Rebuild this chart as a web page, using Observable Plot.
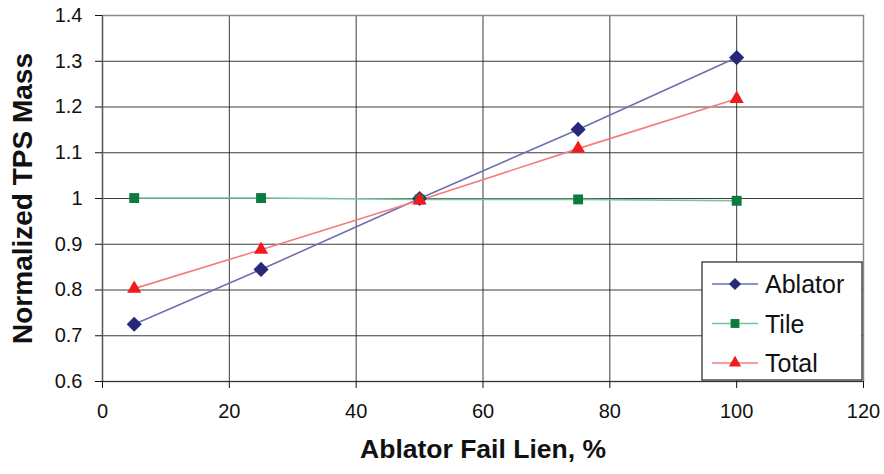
<!DOCTYPE html>
<html><head><meta charset="utf-8">
<script src="https://cdn.jsdelivr.net/npm/d3@7"></script>
<script src="https://cdn.jsdelivr.net/npm/@observablehq/plot@0.6"></script>
<style>
body{margin:0;background:#fff;font-family:"Liberation Sans",Arial,sans-serif;}
#chart{position:relative;width:884px;height:474px;}
</style></head>
<body><div id="chart"></div>
<script>
const failLien = [5, 25, 50, 75, 100];
const ablator = [0.725, 0.845, 1.0, 1.151, 1.308];
const tile = [1.001, 1.001, 0.998, 0.998, 0.995];
const total = [0.803, 0.888, 0.996, 1.109, 1.218];
const seriesNames = ["Ablator", "Tile", "Total"];
const xTicks = [0, 20, 40, 60, 80, 100, 120];
const yTicks = [0.6, 0.7, 0.8, 0.9, 1, 1.1, 1.2, 1.3, 1.4];
const xLabel = "Ablator Fail Lien, %";
const yLabel = "Normalized TPS Mass";

const lineColors = {Ablator: "#6f6fae", Tile: "#7cc29c", Total: "#f47c7c"};
const dotColors = {Ablator: "#26287a", Tile: "#0b7b3e", Total: "#f01c1c"};
const symbols = {Ablator: "diamond2", Tile: "square2", Total: "triangle2"};
const sizes = {Ablator: 6.8, Tile: 6.3, Total: 6.8};

const allSeries = [ablator, tile, total];
const data = [];
seriesNames.forEach((s, i) => failLien.forEach((x, j) => data.push({series: s, x, y: allSeries[i][j]})));

const marks = [
  Plot.gridX(xTicks, {stroke: "#1a1a1a", strokeOpacity: 0.85, strokeWidth: 1}),
  Plot.gridY(yTicks, {stroke: "#1a1a1a", strokeOpacity: 0.85, strokeWidth: 1}),
  Plot.frame({stroke: "#888", strokeWidth: 1.5}),
  Plot.ruleX([0], {stroke: "#555", strokeWidth: 1.2}),
  Plot.ruleY([0.6], {stroke: "#333", strokeWidth: 1.2}),
  Plot.axisX({ticks: xTicks, tickSize: 7, tickPadding: 15, fontSize: 20, label: null, tickFormat: d => String(d)}),
  Plot.axisY({ticks: yTicks, tickSize: 7, tickPadding: 13, fontSize: 20, label: null, tickFormat: d => String(d)}),
];
for (const s of seriesNames) {
  const d = data.filter(e => e.series === s);
  marks.push(Plot.line(d, {x: "x", y: "y", stroke: lineColors[s], strokeWidth: 1.6}));
}
for (const s of seriesNames) {
  const d = data.filter(e => e.series === s);
  marks.push(Plot.dot(d, {x: "x", y: "y", symbol: () => symbols[s], fill: dotColors[s], stroke: "none", r: sizes[s]}));
}
marks.push(Plot.text([xLabel], {frameAnchor: "bottom", dy: 76, fontSize: 26.5, fontWeight: "bold", fill: "#111", textAnchor: "middle"}));
marks.push(Plot.text([yLabel], {frameAnchor: "left", dx: -79, rotate: -90, fontSize: 28, fontWeight: "bold", fill: "#111", textAnchor: "middle"}));

const chart = Plot.plot({
  width: 884, height: 474,
  marginLeft: 102, marginRight: 21, marginTop: 15, marginBottom: 93,
  style: {fontFamily: "Liberation Sans, Arial, sans-serif", color: "#111", background: "#fff"},
  x: {domain: [0, 120]},
  y: {domain: [0.6, 1.4]},
  symbol: {type: "identity"},
  marks
});
document.getElementById("chart").appendChild(chart);

// legend box inside the plot area
const svg = d3.select(chart);
const lx = 702, ly = 262, lw = 160, lh = 118;
const g = svg.append("g").attr("font-family", "Liberation Sans, Arial, sans-serif").attr("text-anchor", "start");
g.append("rect").attr("x", lx).attr("y", ly).attr("width", lw).attr("height", lh)
  .attr("fill", "#fff").attr("stroke", "#222").attr("stroke-width", 1.2);
seriesNames.forEach((s, i) => {
  const cy = ly + 22 + i * 39.5;
  g.append("line").attr("x1", lx + 10).attr("x2", lx + 56).attr("y1", cy).attr("y2", cy)
    .attr("stroke", lineColors[s]).attr("stroke-width", 1.6);
  const sym = d3.symbol().type(s === "Ablator" ? d3.symbolDiamond2 : s === "Tile" ? d3.symbolSquare2 : d3.symbolTriangle2)
    .size(s === "Ablator" ? 95 : s === "Tile" ? 100 : 110);
  g.append("path").attr("d", sym()).attr("transform", `translate(${lx + 33},${cy})`).attr("fill", dotColors[s]);
  g.append("text").attr("x", lx + 63).attr("y", cy).attr("dy", "0.36em").attr("font-size", 25)
    .attr("text-anchor", "start").attr("fill", "#111").text(s);
});
</script></body></html>
